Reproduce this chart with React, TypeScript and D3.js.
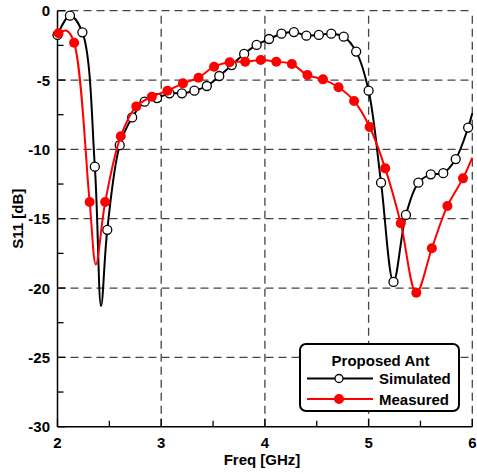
import React from "react";
import * as d3 from "d3";

// simulated S11 (line points); markers every 0.12 GHz, extra points only shape the curve
const simFreq = [2.0, 2.12, 2.24, 2.36, 2.42, 2.48, 2.6, 2.72, 2.84, 2.96, 3.08, 3.2, 3.32, 3.44, 3.56, 3.68, 3.8, 3.92, 4.04, 4.16, 4.28, 4.4, 4.52, 4.64, 4.76, 4.88, 5.0, 5.12, 5.24, 5.36, 5.48, 5.6, 5.72, 5.84, 5.96, 6.0];
const simS11 = [-1.75, -0.36, -1.56, -11.25, -21.3, -15.8, -9.7, -7.7, -6.56, -6.3, -5.96, -5.96, -5.77, -5.43, -4.71, -3.92, -3.12, -2.47, -2.04, -1.66, -1.54, -1.8, -1.75, -1.66, -1.87, -2.95, -5.77, -12.4, -19.56, -14.73, -12.4, -11.8, -11.72, -10.7, -8.43, -7.4];
const simExtra = [2.42, 6.0];

// measured S11; markers every 0.15 GHz
const measFreq = [2.01, 2.09, 2.16, 2.31, 2.37, 2.46, 2.61, 2.76, 2.91, 3.06, 3.21, 3.36, 3.51, 3.66, 3.81, 3.96, 4.11, 4.26, 4.41, 4.56, 4.71, 4.86, 5.01, 5.16, 5.31, 5.46, 5.61, 5.76, 5.91, 6.0];
const measS11 = [-1.63, -1.45, -2.31, -13.8, -18.3, -13.8, -9.05, -6.9, -6.2, -5.77, -5.24, -4.83, -4.04, -3.72, -3.68, -3.56, -3.68, -3.84, -4.64, -4.95, -5.52, -6.51, -8.39, -11.37, -15.33, -20.34, -17.13, -14.08, -12.09, -10.6];
const measExtra = [2.09, 2.37, 6.0];

const xTicks = [2, 3, 4, 5, 6];
const xMinor = [2.5, 3.5, 4.5, 5.5];
const yTicks = [0, -5, -10, -15, -20, -25, -30];
const yMinor = [-2.5, -7.5, -12.5, -17.5, -22.5, -27.5];

const W = 477;
const H = 474;
const font = "'Liberation Sans', Arial, sans-serif";
const fs = 15;

export default function App() {
  const x = d3.scaleLinear().domain([2, 6]).range([57.5, 472.3]);
  const y = d3.scaleLinear().domain([-30, 0]).range([426.7, 10.7]);

  const line = d3
    .line<[number, number]>()
    .x((d) => x(d[0]))
    .y((d) => y(d[1]))
    .curve(d3.curveCatmullRom.alpha(0.5));

  const sim: [number, number][] = simFreq.map((f, i) => [f, simS11[i]]);
  const meas: [number, number][] = measFreq.map((f, i) => [f, measS11[i]]);
  const simMarks = sim.filter((d) => !simExtra.includes(d[0]));
  const measMarks = meas.filter((d) => !measExtra.includes(d[0]));

  const gridStyle = { stroke: "#444", strokeWidth: 1.3, strokeDasharray: "8 5" };

  return (
    <svg width={W} height={H} style={{ position: "absolute", left: 0, top: 0, background: "#fff" }}>
      {/* grid */}
      {xTicks.slice(1).map((t) => (
        <line key={"gx" + t} x1={x(t)} x2={x(t)} y1={y(-30)} y2={y(0)} {...gridStyle} />
      ))}
      {yTicks.slice(0, -1).map((t) => (
        <line key={"gy" + t} x1={x(2)} x2={x(6)} y1={y(t)} y2={y(t)} {...gridStyle} />
      ))}

      {/* axes */}
      <line x1={x(2)} x2={x(2)} y1={y(0)} y2={y(-30)} stroke="#000" strokeWidth={1.5} />
      <line x1={x(2)} x2={x(6)} y1={y(-30)} y2={y(-30)} stroke="#000" strokeWidth={1.5} />
      {xTicks.map((t) => (
        <line key={"tx" + t} x1={x(t)} x2={x(t)} y1={y(-30)} y2={y(-30) - 8} stroke="#000" strokeWidth={1.3} />
      ))}
      {xMinor.map((t) => (
        <line key={"mx" + t} x1={x(t)} x2={x(t)} y1={y(-30)} y2={y(-30) - 6} stroke="#000" strokeWidth={1.3} />
      ))}
      {yTicks.map((t) => (
        <line key={"ty" + t} x1={x(2)} x2={x(2) + 8} y1={y(t)} y2={y(t)} stroke="#000" strokeWidth={1.3} />
      ))}
      {yMinor.map((t) => (
        <line key={"my" + t} x1={x(2)} x2={x(2) + 6} y1={y(t)} y2={y(t)} stroke="#000" strokeWidth={1.3} />
      ))}

      {/* tick labels */}
      {xTicks.map((t) => (
        <text key={"lx" + t} x={x(t)} y={447.5} textAnchor="middle" fontFamily={font} fontWeight="bold" fontSize={fs}>
          {t}
        </text>
      ))}
      {yTicks.map((t) => (
        <text key={"ly" + t} x={50} y={y(t) + 5.5} textAnchor="end" fontFamily={font} fontWeight="bold" fontSize={fs}>
          {t}
        </text>
      ))}
      <text x={262} y={465} textAnchor="middle" fontFamily={font} fontWeight="bold" fontSize={fs}>
        Freq [GHz]
      </text>
      <text
        transform={`translate(22.5,${(y(0) + y(-30)) / 2}) rotate(-90)`}
        textAnchor="middle"
        fontFamily={font}
        fontWeight="bold"
        fontSize={fs}
      >
        S11 [dB]
      </text>

      {/* series */}
      <path d={line(sim) ?? ""} fill="none" stroke="#000" strokeWidth={2} />
      {simMarks.map((d, i) => (
        <circle key={"sm" + i} cx={x(d[0])} cy={y(d[1])} r={4.5} fill="#fff" stroke="#000" strokeWidth={1.3} />
      ))}
      <path d={line(meas) ?? ""} fill="none" stroke="#ff0000" strokeWidth={2} />
      {measMarks.map((d, i) => (
        <circle key={"mm" + i} cx={x(d[0])} cy={y(d[1])} r={5} fill="#ff0000" />
      ))}

      {/* legend */}
      <g fontFamily={font} fontWeight="bold" fontSize={fs}>
        <rect x={300} y={344} width={159} height={67} rx={6} fill="#fff" stroke="#000" strokeWidth={2} />
        <text x={380.5} y={366} textAnchor="middle">Proposed Ant</text>
        <line x1={307} x2={373} y1={378.5} y2={378.5} stroke="#000" strokeWidth={2} />
        <circle cx={339} cy={378.5} r={4} fill="#fff" stroke="#000" strokeWidth={1.3} />
        <text x={379} y={384}>Simulated</text>
        <line x1={307} x2={373} y1={399} y2={399} stroke="#ff0000" strokeWidth={2} />
        <circle cx={339} cy={399} r={5} fill="#ff0000" />
        <text x={379} y={404.5}>Measured</text>
      </g>
    </svg>
  );
}
